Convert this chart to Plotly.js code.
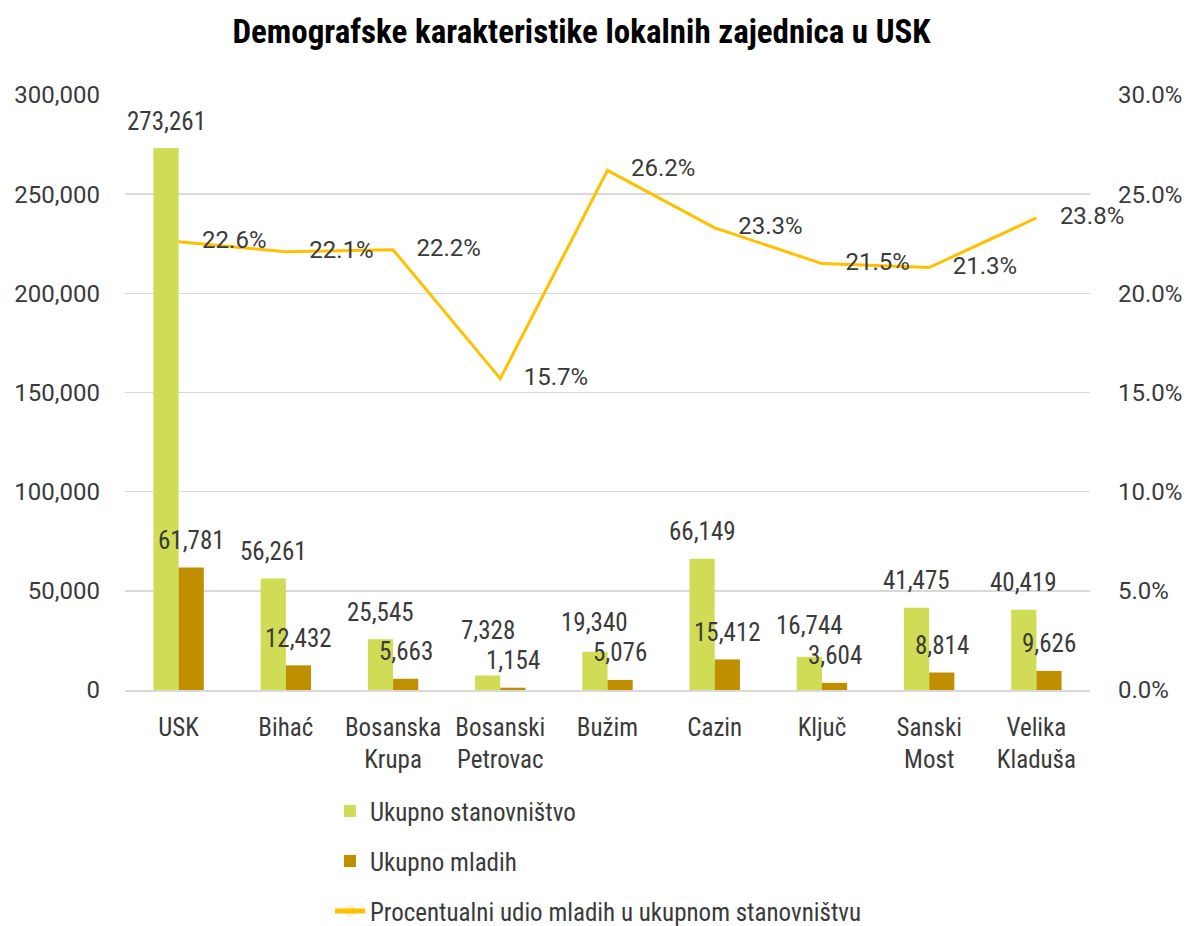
<!DOCTYPE html>
<html><head><meta charset="utf-8">
<script src="https://cdn.plot.ly/plotly-3.0.1.min.js"></script>
<style>html,body{margin:0;padding:0;background:#fff}#chart{width:1185px;height:926px}</style>
</head><body><div id="chart"></div>
<script>
const categories = ["USK","Bihać","Bosanska<br>Krupa","Bosanski<br>Petrovac","Bužim","Cazin","Ključ","Sanski<br>Most","Velika<br>Kladuša"];
const ukupnoStanovnistvo = [273261,56261,25545,7328,19340,66149,16744,41475,40419];
const ukupnoMladih = [61781,12432,5663,1154,5076,15412,3604,8814,9626];
const procentualniUdio = [0.226,0.221,0.222,0.157,0.262,0.233,0.215,0.213,0.238];
const leftTicks = [0,50000,100000,150000,200000,250000,300000];
const rightTicks = [0,0.05,0.10,0.15,0.20,0.25,0.30];

const COND = "Roboto Condensed, Roboto, sans-serif";
const NUM = "Roboto, sans-serif";
const TXT = '#3a3a3a';
const fmt = v => v.toLocaleString('en-US');

const W = 1185, H = 926, M = {l:125, r:95, t:95, b:236};
const YMAX = 300000, BARGAP = 0.53;
const plotW = W - M.l - M.r, plotH = H - M.t - M.b;
const pxPerUnit = plotH / YMAX;
const halfBar = (plotW / categories.length) * (1 - BARGAP) / 4;

const traces = [
 {type:'bar', name:'Ukupno stanovništvo', x:categories, y:ukupnoStanovnistvo,
  marker:{color:'#D0DC55'}, legendgroup:'a', hoverinfo:'skip'},
 {type:'bar', name:'Ukupno mladih', x:categories, y:ukupnoMladih,
  marker:{color:'#BF8F00'}, legendgroup:'b', hoverinfo:'skip'},
 {type:'scatter', mode:'lines+markers+text', name:'Procentualni udio mladih u ukupnom stanovništvu',
  x:categories, y:procentualniUdio, yaxis:'y2', line:{color:'#FFC000',width:3},
  marker:{size:36, opacity:0, color:'#FFC000'},
  text:procentualniUdio.map(v=>(v*100).toFixed(1)+'%'), textposition:'middle right',
  textfont:{family:NUM,size:24,color:TXT}, cliponaxis:false, legendgroup:'c', hoverinfo:'skip'}
];

// data labels above bars (placed from the data values through the axis scale)
const annotations = [];
const GAP = 27;
categories.forEach((c, i) => {
  const g = ukupnoStanovnistvo[i], b = ukupnoMladih[i];
  let gShift = GAP, bShift = GAP;
  const gPx = g * pxPerUnit + gShift, bPx = b * pxPerUnit + bShift;
  if (Math.abs(gPx - bPx) < 30) gShift = bPx + 30 - g * pxPerUnit;
  annotations.push({x:c, y:g, xref:'x', yref:'y', text:fmt(g), showarrow:false, xshift:-halfBar, yshift:gShift,
    yanchor:'middle', font:{family:COND,size:25,color:TXT}});
  annotations.push({x:c, y:b, xref:'x', yref:'y', text:fmt(b), showarrow:false, xshift:halfBar, yshift:bShift,
    yanchor:'middle', font:{family:COND,size:25,color:TXT}});
});

const layout = {
 width:W, height:H,
 margin:{l:M.l,r:M.r,t:M.t,b:M.b,autoexpand:false},
 paper_bgcolor:'#fff', plot_bgcolor:'#fff',
 font:{family:COND,size:25,color:TXT},
 title:{text:'<b>Demografske karakteristike lokalnih zajednica u USK</b>', x:0.4907, xanchor:'center', y:0.966, yanchor:'middle',
   font:{family:COND,size:33,color:'#000'}},
 barmode:'group', bargap:BARGAP, bargroupgap:0,
 xaxis:{type:'category', range:[-0.5, categories.length - 0.5], showgrid:false, showline:true, linecolor:'#d9d9d9', linewidth:1.5, ticks:'',
   tickfont:{family:COND,size:25,color:TXT}, ticklabelstandoff:14},
 yaxis:{range:[0,YMAX], tickvals:leftTicks, tickformat:',', showgrid:true, gridcolor:'#d9d9d9', gridwidth:1.5, zeroline:false,
   ticks:'', tickfont:{family:NUM,size:24,color:TXT}, ticklabelstandoff:24},
 yaxis2:{range:[0,0.30], tickvals:rightTicks, tickformat:'.1%', overlaying:'y', side:'right', showgrid:false, zeroline:false,
   ticks:'', tickfont:{family:NUM,size:24,color:TXT}, ticklabelstandoff:27},
 annotations:annotations,
 showlegend:true,
 legend:{orientation:'v', x:0.2124, xanchor:'left', y:-0.165, yanchor:'top', traceorder:'grouped', tracegroupgap:14.5,
   font:{family:COND,size:25,color:TXT}, itemsizing:'constant'}
};
Plotly.newPlot('chart', traces, layout, {displayModeBar:false, staticPlot:true});
</script></body></html>
